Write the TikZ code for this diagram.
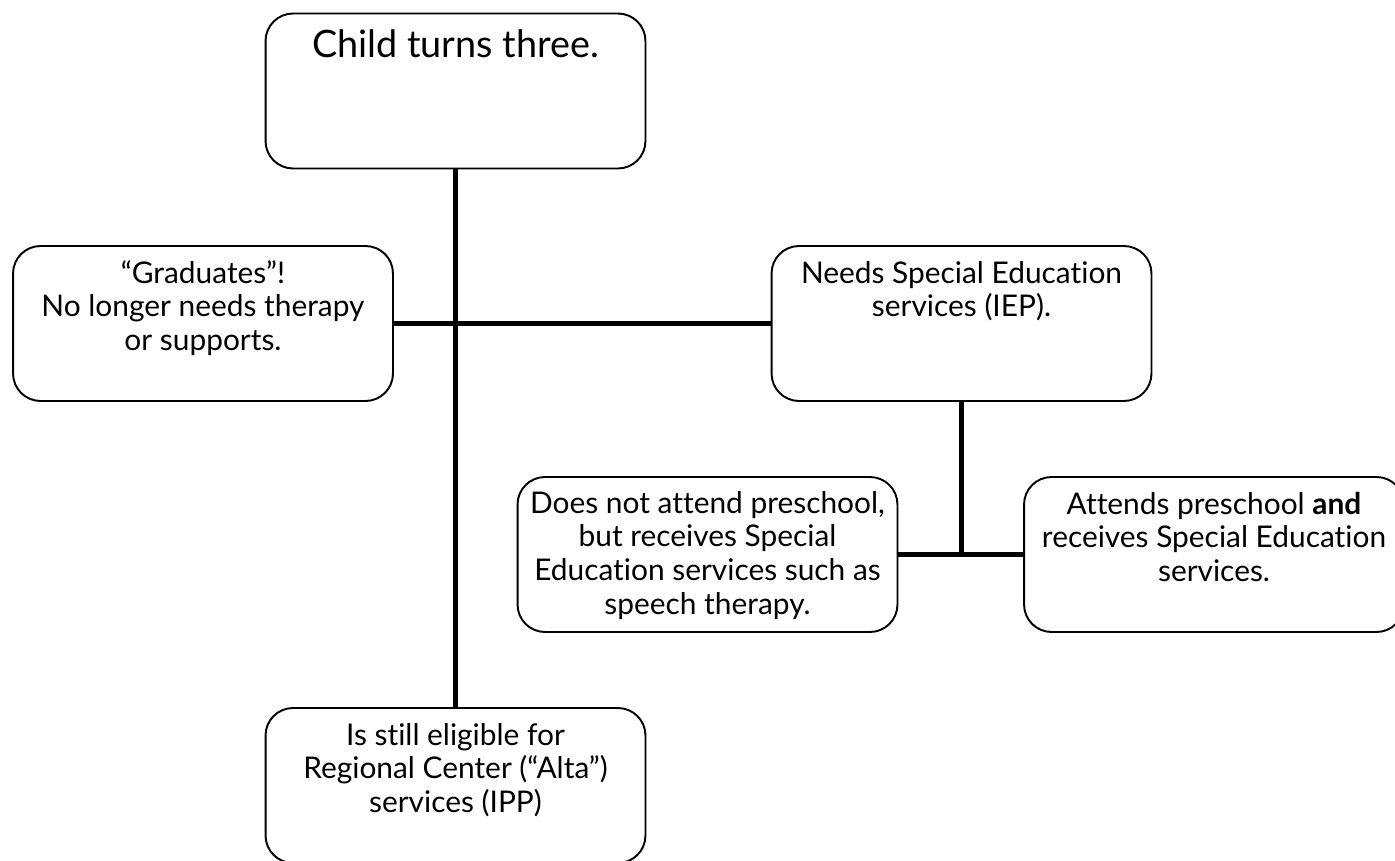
\documentclass[tikz,border=0pt]{standalone}
\usepackage{fontspec}
\setmainfont{Lato}[Ligatures=NoCommon]
\tikzset{
  box/.style={draw, line width=1.1pt, rounded corners=0.55cm, minimum width=7.6cm, minimum height=3.1cm, inner sep=0pt},
  conn/.style={line width=2.8pt},
}
\newcommand{\boxtext}[2][0.64cm]{\parbox[t][2.9cm][t]{7.5cm}{\centering\fontsize{17}{19.3}\selectfont\rule{0pt}{#1}#2}}
\begin{document}
\begin{tikzpicture}[x=0.02cm, y=-0.02cm]
	\useasboundingbox (0,0) rectangle (1395,861);
	\clip (0,0) rectangle (1395,861);
	\node[box] (child) at (455.5,91) {\boxtext[0.78cm]{\fontsize{21.5}{24}\selectfont Child turns three.}};
	\node[box] (grad) at (203,323.5) {\boxtext{“Graduates”!\\No longer needs therapy\\or supports.}};
	\node[box] (iep) at (961.5,323.5) {\boxtext{Needs Special Education\\services (IEP).}};
	\node[box] (nopre) at (707.5,554.5) {\boxtext[0.62cm]{Does not attend preschool,\\but receives Special\\Education services such as\\speech therapy.}};
	\node[box] (pre) at (1214,554.5) {\boxtext{Attends preschool \textbf{and}\\receives Special Education\\services.}};
	\node[box] (ipp) at (455.5,785.5) {\boxtext{Is still eligible for\\Regional Center (“Alta”)\\services (IPP)}};
	% connectors
	\draw[conn] (child) -- (ipp);
	\draw[conn] (grad) -- (iep);
	\draw[conn] (iep) -- (iep |- nopre);
	\draw[conn] (nopre) -- (pre);
\end{tikzpicture}
\end{document}
